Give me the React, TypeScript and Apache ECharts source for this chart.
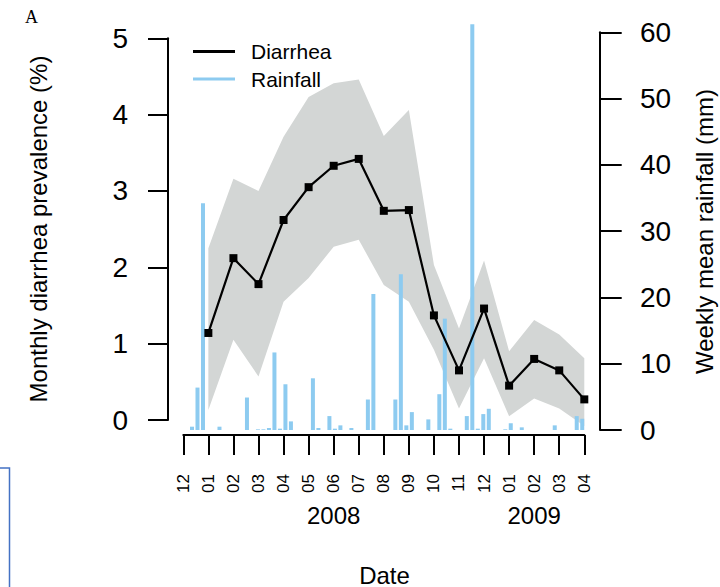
import React, { useEffect, useRef } from "react";
import * as echarts from "echarts";

// Month tick labels, Dec 2007 .. Apr 2009 (17 ticks)
const MONTH_LABELS = ["12", "01", "02", "03", "04", "05", "06", "07", "08", "09", "10", "11", "12", "01", "02", "03", "04"];
const YEAR_LABELS = ["2008", "2009"];
const YEAR_TICKS = [6, 14];

// Monthly diarrhea prevalence (%), Jan 2008 .. Apr 2009
const DIARRHEA = [1.14, 2.12, 1.78, 2.62, 3.05, 3.33, 3.42, 2.74, 2.75, 1.37, 0.65, 1.46, 0.45, 0.8, 0.65, 0.27];
const CI_UPPER = [2.25, 3.16, 3.0, 3.71, 4.23, 4.41, 4.46, 3.72, 4.06, 2.03, 1.2, 2.09, 0.9, 1.31, 1.12, 0.81];
const CI_LOWER = [0.13, 1.05, 0.57, 1.55, 1.86, 2.27, 2.36, 1.77, 1.55, 0.92, 0.15, 0.81, 0.05, 0.28, 0.15, -0.08];

// Weekly mean rainfall (mm), 72 weeks
const RAINFALL = [
  0.5, 6.4, 34.2, 0, 0, 0.5, 0, 0, 0, 0,
  4.9, 0, 0.1, 0.1, 0.3, 11.7, 0.2, 6.9, 1.3, 0,
  0, 0, 7.8, 0.3, 0, 2.1, 0.2, 0.7, 0, 0.3,
  0, 0, 4.6, 20.5, 0, 0, 0, 4.6, 23.5, 0.7,
  2.7, 0, 0, 1.6, 0, 5.4, 16.8, 0.2, 0, 0,
  2.1, 61.2, 0.2, 2.4, 3.2, 0, 0, 0.1, 1.0, 0,
  0.4, 0, 0, 0, 0, 0, 0.7, 0, 0, 0,
  2.1, 1.7,
];
// first week's date, in months after the Dec 2007 tick, and week length in months
const FIRST_WEEK = 0.347;
const WEEK_LEN = 0.2193;

const FONT = "Liberation Sans, Arial, Helvetica, sans-serif";
const BAND = "#D3D6D5";
const BLUE = "#8DCBF0";

export default function App() {
  const ref = useRef<HTMLDivElement>(null);

  useEffect(() => {
    if (!ref.current) return;
    const chart = echarts.init(ref.current, undefined, { renderer: "svg" });

    const axisLine = { show: true, onZero: false, lineStyle: { color: "#000", width: 2 } };
    const tick = (len: number) => ({ show: true, inside: false, length: len, lineStyle: { color: "#000", width: 2 } });

    const option: any = {
      animation: false,
      textStyle: { fontFamily: FONT, color: "#000" },
      grid: [
        { left: 183.3, right: 135.7, top: 38.3, bottom: 167 },
        { left: 183.3, right: 135.7, top: 32.3, bottom: 157 },
      ],
      legend: {
        orient: "vertical",
        left: 188,
        top: 36,
        itemWidth: 42,
        itemHeight: 3,
        itemGap: 6.6,
        data: [
          { name: "Diarrhea", icon: "rect" },
          { name: "Rainfall", icon: "rect" },
        ],
        textStyle: { fontSize: 21, color: "#000", fontFamily: FONT, padding: [0, 0, 0, 11] },
      },
      xAxis: [
        {
          gridIndex: 0,
          type: "value",
          min: 0,
          max: 16,
          interval: 1,
          position: "bottom",
          offset: 15,
          axisLine: { show: false, onZero: false },
          axisTick: { show: false },
          splitLine: { show: false },
          axisLabel: {
            margin: 68,
            fontSize: 24,
            color: "#000",
            fontFamily: FONT,
            formatter: (v: number) => {
              const i = YEAR_TICKS.indexOf(v);
              return i >= 0 ? YEAR_LABELS[i] : "";
            },
          },
        },
        {
          gridIndex: 1,
          type: "value",
          min: 0,
          max: 16,
          interval: 1,
          position: "bottom",
          offset: 5,
          axisLine,
          axisTick: tick(20),
          splitLine: { show: false },
          axisLabel: {
            rotate: 90,
            margin: 39,
            fontSize: 17,
            color: "#000",
            fontFamily: FONT,
            formatter: (v: number) => MONTH_LABELS[v] ?? "",
          },
        },
      ],
      yAxis: [
        {
          gridIndex: 0,
          type: "value",
          min: 0,
          max: 5,
          interval: 1,
          position: "left",
          offset: 15.3,
          axisLine,
          axisTick: tick(20),
          splitLine: { show: false },
          axisLabel: { margin: 40, fontSize: 28, color: "#000", fontFamily: FONT },
        },
        {
          gridIndex: 1,
          type: "value",
          min: 0,
          max: 60,
          interval: 10,
          position: "right",
          offset: 15.7,
          axisLine,
          axisTick: tick(21.7),
          splitLine: { show: false },
          axisLabel: { margin: 40, fontSize: 28, color: "#000", fontFamily: FONT },
        },
      ],
      series: [
        {
          name: "CI",
          type: "custom",
          xAxisIndex: 0,
          yAxisIndex: 0,
          coordinateSystem: "cartesian2d",
          clip: false,
          z: 1,
          silent: true,
          data: [[1, 0]],
          renderItem: (_params: any, api: any) => {
            const pts: number[][] = [];
            for (let i = 0; i < CI_UPPER.length; i++) pts.push(api.coord([i + 1, CI_UPPER[i]]));
            for (let i = CI_LOWER.length - 1; i >= 0; i--) pts.push(api.coord([i + 1, CI_LOWER[i]]));
            return { type: "polygon", shape: { points: pts }, style: { fill: BAND } };
          },
        },
        {
          name: "Rainfall",
          type: "bar",
          xAxisIndex: 1,
          yAxisIndex: 1,
          barWidth: 4,
          clip: false,
          z: 2,
          itemStyle: { color: BLUE },
          data: RAINFALL.map((r, k) => [FIRST_WEEK + k * WEEK_LEN, r]),
        },
        {
          name: "Diarrhea",
          type: "line",
          xAxisIndex: 0,
          yAxisIndex: 0,
          z: 5,
          clip: false,
          symbol: "rect",
          symbolSize: 8,
          color: "#000",
          itemStyle: { color: "#000" },
          lineStyle: { color: "#000", width: 2.2 },
          data: DIARRHEA.map((v, i) => [i + 1, v]),
        },
      ],
      graphic: [
        {
          type: "text",
          left: 25,
          top: 8,
          style: { text: "A", fontSize: 18, fontFamily: "Liberation Serif, Times New Roman, serif", fill: "#000" },
        },
        {
          type: "text",
          x: 38,
          y: 229,
          rotation: Math.PI / 2,
          style: {
            text: "Monthly diarrhea prevalence (%)",
            fontSize: 24,
            fontFamily: FONT,
            fill: "#000",
            align: "center",
            verticalAlign: "middle",
          },
        },
        {
          type: "text",
          x: 704,
          y: 231.5,
          rotation: Math.PI / 2,
          style: {
            text: "Weekly mean rainfall (mm)",
            fontSize: 24,
            fontFamily: FONT,
            fill: "#000",
            align: "center",
            verticalAlign: "middle",
          },
        },
        {
          type: "text",
          x: 384.5,
          y: 575,
          style: { text: "Date", fontSize: 24, fontFamily: FONT, fill: "#000", align: "center", verticalAlign: "middle" },
        },
        {
          type: "polyline",
          shape: { points: [[0, 468], [9.5, 468], [9.5, 590]] },
          style: { stroke: "#4472C4", lineWidth: 1.5, fill: "none" },
        },
      ],
    };

    chart.setOption(option);
    return () => chart.dispose();
  }, []);

  return <div ref={ref} style={{ position: "absolute", left: 0, top: 0, width: 720, height: 587 }} />;
}
